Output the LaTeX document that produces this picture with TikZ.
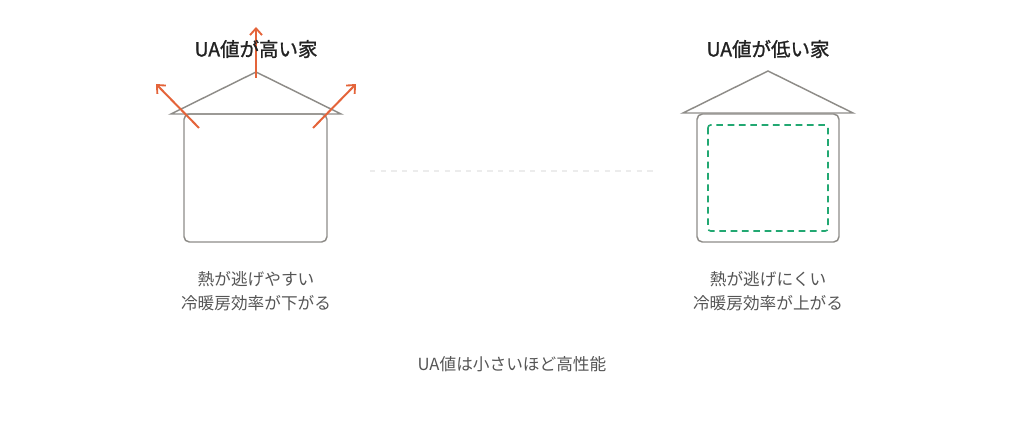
\documentclass[tikz,border=0pt]{standalone}
\usepackage{fontspec}
\setmainfont{Noto Sans CJK JP}
\newfontfamily\headfont[FakeBold=1.2]{Noto Sans CJK JP}
\usepackage{tikz}
\usetikzlibrary{arrows,arrows.meta}

\definecolor{wallgray}{HTML}{8E8C88}
\definecolor{heatorange}{HTML}{E4643A}
\definecolor{sealgreen}{HTML}{22A872}
\definecolor{textdark}{HTML}{222222}
\definecolor{textgray}{HTML}{555555}
\definecolor{sepgray}{HTML}{ECECEC}

\tikzset{
  house/.style={draw=wallgray, line width=1.1pt},
  heat/.style={-{Straight Barb[length=5pt,width=9pt,line width=1.4pt]}, draw=heatorange, line width=1.5pt},
  title/.style={font=\fontsize{14.6}{17}\headfont, text=textdark},
  caption/.style={font=\fontsize{12.5}{18}\selectfont, text=textgray, align=center}
}

\begin{document}
\begin{tikzpicture}[x=0.75pt, y=-0.75pt]
  \useasboundingbox (0,0) rectangle (1024,427);   % page frame

  % left house: high UA
  \draw[house] (171,114) -- (256,72) -- (341,114) -- cycle;   % roof
  \draw[house, rounded corners=4pt] (184,114) rectangle (327,242);   % body
  \coordinate (lroof) at (256,78);
  \coordinate (ltop) at (256,27);
  \coordinate (lwall) at (199,128);
  \coordinate (lout) at (156,84);
  \coordinate (rwall) at (313,128);
  \coordinate (rout) at (356,84);
  \draw[heat] (lroof) -- (ltop);   % heat up through roof
  \draw[heat] (lwall) -- (lout);   % heat out to the left
  \draw[heat] (rwall) -- (rout);   % heat out to the right

  % right house: low UA
  \draw[house] (683,113) -- (768,71) -- (853,113) -- cycle;   % roof
  \draw[house, rounded corners=4pt] (697,114) rectangle (839,242);   % body
  \draw[sealgreen, line width=1.2pt, dash pattern=on 5pt off 3.5pt, rounded corners=2pt]
    (708,125) rectangle (828,231);   % insulation line

  % separator
  \draw[sepgray, line width=1pt, dash pattern=on 4pt off 4pt] (370,171) -- (655,171);

  % labels
  \node[title] (hightitle) at (256,49) {UA値が高い家};
  \node[title] (lowtitle) at (768,49) {UA値が低い家};
  \node[caption] (highcap) at (256,291) {熱が逃げやすい\\冷暖房効率が下がる};
  \node[caption] (lowcap) at (768,291) {熱が逃げにくい\\冷暖房効率が上がる};
  \node[caption] (note) at (512,364) {UA値は小さいほど高性能};
\end{tikzpicture}
\end{document}
